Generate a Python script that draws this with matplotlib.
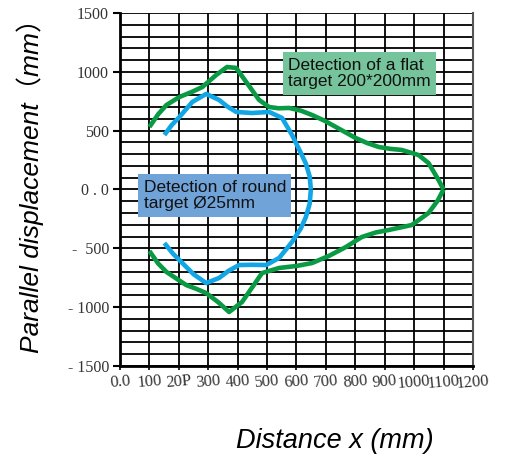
import numpy as np
import matplotlib.pyplot as plt
from matplotlib.ticker import MultipleLocator

# flat target 200*200mm (green), upper and lower branch
flat_up_x = [100, 130, 158, 202, 245, 280, 327, 364, 395, 429, 473, 507, 540, 575, 615, 653, 695, 734, 801, 840, 880, 920, 958, 1015, 1049, 1083, 1100]
flat_up_y = [531, 640, 718, 786, 830, 871, 973, 1041, 1033, 914, 761, 701, 690, 693, 670, 633, 585, 531, 438, 395, 361, 345, 336, 293, 225, 81, 0]
flat_lo_x = [100, 130, 158, 225, 260, 293, 335, 371, 415, 450, 483, 541, 600, 653, 710, 768, 822, 870, 914, 992, 1049, 1080, 1100]
flat_lo_y = [-523, -630, -701, -812, -845, -880, -960, -1041, -956, -830, -710, -667, -650, -625, -565, -489, -404, -365, -344, -302, -200, -95, 0]

# round target 25mm (blue)
round_up_x = [151, 175, 202, 246, 293, 337, 365, 395, 449, 507, 551, 585, 615, 632, 645, 649]
round_up_y = [463, 545, 616, 744, 812, 761, 705, 659, 650, 659, 608, 463, 310, 220, 110, 0]
round_lo_x = [151, 180, 212, 250, 293, 337, 370, 405, 450, 497, 541, 585, 615, 632, 645, 649]
round_lo_y = [-455, -545, -625, -720, -795, -752, -690, -642, -640, -642, -582, -446, -330, -234, -120, 0]

x_ticks = list(range(0, 1300, 100))
x_labels = ["0.0", "100", "20P", "300", "400", "500", "600", "700", "800",
            "900", "1000", "1100", "1200"]
y_ticks = [-1500, -1000, -500, 0, 500, 1000, 1500]
y_labels = ["- 1500", "- 1000", "-  500", "0 . 0", "500", "1000", "1500"]

green = "#0a9a44"
blue = "#12a6e6"

fig = plt.figure(figsize=(5.1, 4.62), dpi=100)
ax = fig.add_axes([0.2353, 0.2078, 0.692, 0.7641])

for xs, ys, c in [(flat_up_x, flat_up_y, green), (flat_lo_x, flat_lo_y, green),
                  (round_up_x, round_up_y, blue), (round_lo_x, round_lo_y, blue)]:
    ax.plot(xs, ys, color=c, lw=3.3, solid_joinstyle="round", solid_capstyle="butt", zorder=3)

ax.set_xlim(0, 1200)
ax.set_ylim(-1500, 1500)

ax.set_xticks(x_ticks)
ax.set_xticklabels(x_labels, fontfamily="Liberation Serif", fontsize=12, color="#333333", rotation=5)
ax.set_yticks(y_ticks)
ax.set_yticklabels(y_labels, fontfamily="Liberation Serif", fontsize=11.5, color="#333333")
ax.yaxis.set_minor_locator(MultipleLocator(100))

ax.grid(True, which="major", axis="both", color="black", lw=1.3)
ax.grid(True, which="minor", axis="y", color="black", lw=1.3)
ax.set_axisbelow(True)
ax.tick_params(axis="y", which="major", length=5, width=1.5, pad=3, direction="out")
ax.tick_params(axis="y", which="minor", length=0)
ax.tick_params(axis="x", which="major", length=3, width=1.2, pad=2, direction="out")

for side in ["left", "bottom"]:
    ax.spines[side].set_linewidth(2)
ax.spines["top"].set_visible(False)
ax.spines["right"].set_color("#555555")
ax.spines["right"].set_linewidth(1.5)

ax.text(571, 1120, "Detection of a flat\ntarget 200*200mm", fontsize=12.5,
        fontfamily="Liberation Sans", color="#111111", va="top", ha="left", linespacing=1.15,
        bbox=dict(boxstyle="square,pad=0.3", fc="#76c49c", ec="none"), zorder=4)
ax.text(80, 84, "Detection of round\ntarget Ø25mm", fontsize=12.5,
        fontfamily="Liberation Sans", color="#111111", va="top", ha="left", linespacing=1.15,
        bbox=dict(boxstyle="square,pad=0.3", fc="#70a3d8", ec="none"), zorder=4)

fig.text(0.657, 0.045, "Distance x (mm)", fontsize=19.5, style="italic",
         family=["Liberation Sans", "Noto Sans CJK SC"], ha="center", va="center")
fig.text(0.06, 0.612, "Parallel displacement（mm）", fontsize=19, style="italic",
         family=["Liberation Sans", "Noto Sans CJK SC"], ha="center", va="center", rotation=90)

fig.savefig("out.png", dpi=100)
